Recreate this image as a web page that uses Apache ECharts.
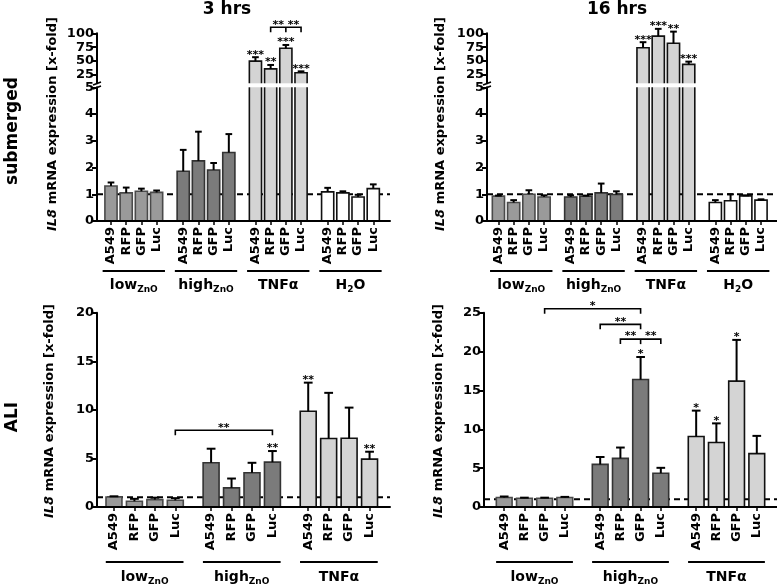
<!DOCTYPE html>
<html><head><meta charset="utf-8">
<script src="https://cdn.jsdelivr.net/npm/echarts@6/dist/echarts.min.js"></script>
<style>html,body{margin:0;padding:0;background:#fff}#c{width:777px;height:584px}</style>
</head><body><div id="c"></div>
<script>
// ---------- data ----------
const cells = ['A549', 'RFP', 'GFP', 'Luc'];
const groupLabelsSub = ['{m|low}{s|ZnO}', '{m|high}{s|ZnO}', '{m|TNFα}', '{m|H}{s|2}{m|O}'];
const groupLabelsAli = ['{m|low}{s|ZnO}', '{m|high}{s|ZnO}', '{m|TNFα}'];
const brokenUpperTicks = [25, 50, 75, 100];

// submerged, 3 hrs (order: low A549,RFP,GFP,Luc | high ... | TNFα ... | H2O ...)
const sub3Mean = [1.31, 1.05, 1.11, 1.07, 1.86, 2.25, 1.91, 2.56, 50, 36, 73, 29, 1.09, 1.05, 0.90, 1.21];
const sub3Sd   = [0.13, 0.20, 0.10, 0.07, 0.80, 1.09, 0.26, 0.69, 7, 7, 6, 2.5, 0.15, 0.06, 0.08, 0.16];
const sub3Sig  = ['', '', '', '', '', '', '', '', '***', '**', '***', '***', '', '', '', ''];
const sub3Brackets = [[9, 11, 111, '**', 10]];

// submerged, 16 hrs
const sub16Mean = [0.93, 0.69, 1.00, 0.90, 0.90, 0.93, 1.05, 0.99, 74, 95, 82, 44, 0.69, 0.76, 0.94, 0.78];
const sub16Sd   = [0.02, 0.09, 0.15, 0.06, 0.06, 0.02, 0.35, 0.12, 10, 13, 21, 5, 0.09, 0.24, 0.02, 0.03];
const sub16Sig  = ['', '', '', '', '', '', '', '', '***', '***', '**', '***', '', '', '', ''];
const sub16Brackets = [];

// ALI, 3 hrs
const ali3Mean = [1.03, 0.59, 0.76, 0.69, 4.55, 1.97, 3.52, 4.62, 9.85, 7.05, 7.08, 4.93];
const ali3Sd   = [0.07, 0.25, 0.20, 0.22, 1.45, 0.96, 1.03, 1.14, 2.95, 4.70, 3.15, 0.76];
const ali3Sig  = ['', '', '', '', '', '', '', '**', '**', '', '', '**'];
const ali3Brackets = [[3, 7, 7.9, '**']];

// ALI, 16 hrs
const ali16Mean = [1.22, 1.13, 1.13, 1.22, 5.48, 6.26, 16.4, 4.35, 9.07, 8.30, 16.2, 6.87];
const ali16Sd   = [0.13, 0.07, 0.07, 0.08, 0.95, 1.39, 2.9, 0.69, 3.33, 2.46, 5.3, 2.28];
const ali16Sig  = ['', '', '', '', '', '', '*', '', '*', '*', '*', ''];
const ali16Brackets = [[2, 6, 25.5, '*'], [4, 6, 23.5, '**'], [5, 7, 21.6, '**', 6]];

// ---------- layout / style ----------
const FF = 'DejaVu Sans';
const fills = ['#9a9a9a', '#7b7b7b', '#d4d4d4', '#ffffff'];
const strokes = ['#4a4a4a', '#333333', '#111111', '#111111'];
const pos = i => Math.floor(i / 4) * 4.75 + (i % 4);

const grids = [], xAxes = [], yAxes = [], series = [];

function xAxisCfg(gi, xmin, xmax, show, n) {
  const positions = Array.from({length: n}, (_, i) => pos(i));
  return {
    gridIndex: gi, type: 'value', min: xmin, max: xmax, show: show, z: 5,
    axisLine: {show: true, onZero: false, lineStyle: {color: '#000', width: 2}},
    axisTick: {show: true, customValues: positions, length: 4, lineStyle: {color: '#000', width: 1.5}},
    axisLabel: {
      show: true, customValues: positions, rotate: 90, margin: 6,
      fontFamily: FF, fontWeight: 'bold', fontSize: 13, color: '#000',
      formatter: v => { const k = positions.findIndex(p => Math.abs(p - v) < 1e-6); return k < 0 ? '' : cells[k % 4]; }
    },
    splitLine: {show: false}
  };
}
function yAxisCfg(gi, min, max, interval, custom) {
  const c = {
    gridIndex: gi, type: 'value', min: min, max: max, z: 5,
    axisLine: {show: true, onZero: false, lineStyle: {color: '#000', width: 2}},
    axisTick: {show: true, length: 5, lineStyle: {color: '#000', width: 2}},
    axisLabel: {fontFamily: FF, fontWeight: 'bold', fontSize: 13, color: '#000', margin: 3},
    splitLine: {show: false}
  };
  if (interval) c.interval = interval;
  if (custom) { c.axisTick.customValues = custom; c.axisLabel.customValues = custom; }
  return c;
}

function barSeries(ai, means, sds, sigs, yMin, yMax, bw, withTop) {
  const data = means.map((m, i) => [pos(i), m, sds[i], i]);
  return {
    type: 'custom', xAxisIndex: ai, yAxisIndex: ai, z: 3, silent: true, animation: false,
    data: data,
    renderItem: function (params, api) {
      const x = api.value(0), m = api.value(1), sd = api.value(2), i = api.value(3);
      if (m <= yMin) return null;
      const g = Math.floor(i / 4);
      const clipped = m > yMax;
      const top = Math.min(m, yMax);
      const a = api.coord([x - bw / 2, yMin]);
      const b = api.coord([x + bw / 2, top]);
      const children = [{
        type: 'rect', shape: {x: a[0], y: b[1], width: b[0] - a[0], height: a[1] - b[1]},
        style: {fill: fills[g]}
      }];
      const st = {stroke: strokes[g], lineWidth: 1.6, fill: null};
      if (clipped) {
        children.push({type: 'line', shape: {x1: a[0], y1: a[1], x2: a[0], y2: b[1]}, style: st});
        children.push({type: 'line', shape: {x1: b[0], y1: a[1], x2: b[0], y2: b[1]}, style: st});
      } else {
        children.push({type: 'polyline', shape: {points: [[a[0], a[1]], [a[0], b[1]], [b[0], b[1]], [b[0], a[1]]]}, style: st});
        const c = api.coord([x, m]);
        const e = api.coord([x, m + sd]);
        const capW = (b[0] - a[0]) * 0.55;
        const es = {stroke: '#000', lineWidth: 2};
        children.push({type: 'line', shape: {x1: c[0], y1: c[1], x2: e[0], y2: e[1]}, style: es});
        children.push({type: 'line', shape: {x1: e[0] - capW / 2, y1: e[1], x2: e[0] + capW / 2, y2: e[1]}, style: es});
        if (sigs[i]) {
          children.push({type: 'text', x: e[0], y: e[1] + 3,
            style: {text: sigs[i], align: 'center', verticalAlign: 'bottom', font: 'bold 11px "' + FF + '"', fill: '#000'}});
        }
      }
      return {type: 'group', children: children};
    }
  };
}

function refLine(ai, xmin, xmax) {
  return {
    type: 'line', xAxisIndex: ai, yAxisIndex: ai, z: 1, silent: true, animation: false,
    symbol: 'none', data: [[xmin, 1], [xmax, 1]],
    lineStyle: {type: [6, 4], width: 2, color: '#000'}
  };
}

function groupSeries(ai, labels, ext, lineOff, textOff) {
  return {
    type: 'custom', xAxisIndex: ai, yAxisIndex: ai, z: 3, silent: true, animation: false,
    data: labels.map((l, gi) => [pos(gi * 4), pos(gi * 4 + 3)]),
    renderItem: function (params, api) {
      const a = api.coord([api.value(0) - ext, 0]);
      const b = api.coord([api.value(1) + ext, 0]);
      const y = a[1] + lineOff;
      return {type: 'group', children: [
        {type: 'line', shape: {x1: a[0], y1: y, x2: b[0], y2: y}, style: {stroke: '#000', lineWidth: 2.2}},
        {type: 'text', x: (a[0] + b[0]) / 2, y: a[1] + textOff, style: {
          text: labels[params.dataIndex], align: 'center', verticalAlign: 'middle', fill: '#000',
          fontFamily: FF, fontWeight: 'bold', fontSize: 14,
          rich: {
            m: {fontFamily: FF, fontWeight: 'bold', fontSize: 14, fill: '#000', lineHeight: 18},
            s: {fontFamily: FF, fontWeight: 'bold', fontSize: 9, fill: '#000', lineHeight: 18, padding: [9, 0, 0, 0]}
          }
        }}
      ]};
    }
  };
}

function bracketSeries(ai, brs) {
  return {
    type: 'custom', xAxisIndex: ai, yAxisIndex: ai, z: 4, silent: true, animation: false,
    data: brs.map(b => [pos(b[0]), pos(b[1]), b[2]]),
    renderItem: function (params, api) {
      const br = brs[params.dataIndex];
      const L = api.coord([api.value(0), api.value(2)]);
      const R = api.coord([api.value(1), api.value(2)]);
      const st = {stroke: '#000', lineWidth: 1.6};
      const ch = [
        {type: 'polyline', shape: {points: [[L[0], L[1] + 5], [L[0], L[1]], [R[0], R[1]], [R[0], R[1] + 5]]}, style: {stroke: '#000', lineWidth: 1.6, fill: null}}
      ];
      const tf = 'bold 11px "' + FF + '"';
      if (br.length > 4) {
        const M = api.coord([pos(br[4]), api.value(2)]);
        ch.push({type: 'line', shape: {x1: M[0], y1: M[1], x2: M[0], y2: M[1] + 5}, style: st});
        ch.push({type: 'text', x: (L[0] + M[0]) / 2, y: L[1] + 3, style: {text: br[3], align: 'center', verticalAlign: 'bottom', font: tf, fill: '#000'}});
        ch.push({type: 'text', x: (M[0] + R[0]) / 2, y: L[1] + 3, style: {text: br[3], align: 'center', verticalAlign: 'bottom', font: tf, fill: '#000'}});
      } else {
        ch.push({type: 'text', x: (L[0] + R[0]) / 2, y: L[1] + 3, style: {text: br[3], align: 'center', verticalAlign: 'bottom', font: tf, fill: '#000'}});
      }
      return {type: 'group', children: ch};
    }
  };
}

// ---------- panels ----------
function brokenPanel(left, width, xmin, xmax, means, sds, sigs, brs, labels) {
  const n = means.length;
  const gu = grids.length;
  grids.push({left: left, width: width, top: 33.3, height: 50});
  grids.push({left: left, width: width, top: 87.3, height: 133.7});
  const iu = xAxes.length;
  xAxes.push(xAxisCfg(gu, xmin, xmax, false, n));
  xAxes.push(xAxisCfg(gu + 1, xmin, xmax, true, n));
  yAxes.push(yAxisCfg(gu, 10, 100, null, brokenUpperTicks));
  yAxes.push(yAxisCfg(gu + 1, 0, 5, 1, null));
  series.push(refLine(iu + 1, xmin, xmax));
  series.push(barSeries(iu, means, sds, sigs, 10, 100, 0.8));
  series.push(barSeries(iu + 1, means, sds, sigs, 0, 5, 0.8));
  series.push(groupSeries(iu + 1, labels, 0.55, 50, 64));
  if (brs.length) series.push(bracketSeries(iu, brs));
}
function plainPanel(left, width, xmin, xmax, ymax, means, sds, sigs, brs, labels) {
  const n = means.length;
  const g = grids.length;
  grids.push({left: left, width: width, top: 312.7, height: 194.3});
  const ia = xAxes.length;
  xAxes.push(xAxisCfg(g, xmin, xmax, true, n));
  yAxes.push(yAxisCfg(g, 0, ymax, 5, null));
  series.push(refLine(ia, xmin, xmax));
  series.push(barSeries(ia, means, sds, sigs, 0, ymax, 0.78));
  series.push(groupSeries(ia, labels, 0.4, 55, 70));
  if (brs.length) series.push(bracketSeries(ia, brs));
}

brokenPanel(97, 293, -0.92, 18.35, sub3Mean, sub3Sd, sub3Sig, sub3Brackets, groupLabelsSub);
brokenPanel(487, 290, -0.75, 18.3, sub16Mean, sub16Sd, sub16Sig, sub16Brackets, groupLabelsSub);
plainPanel(97, 293, -0.83, 13.5, 20, ali3Mean, ali3Sd, ali3Sig, ali3Brackets, groupLabelsAli);
plainPanel(484, 293, -1, 13.5, 25, ali16Mean, ali16Sd, ali16Sig, ali16Brackets, groupLabelsAli);

// ---------- decorations ----------
function txt(x, y, text, size, rot) {
  return {type: 'text', x: x, y: y, rotation: rot || 0, silent: true, style: {
    text: text, align: 'center', verticalAlign: 'middle', fill: '#000',
    fontFamily: FF, fontWeight: 'bold', fontSize: size,
    rich: {i: {fontFamily: FF, fontWeight: 'bold', fontStyle: 'italic', fontSize: size, fill: '#000'},
           n: {fontFamily: FF, fontWeight: 'bold', fontSize: size, fill: '#000'}}
  }};
}
const ytitle = '{i|IL8}{n| mRNA expression [x-fold]}';
function brk(ax) {
  return [
    {type: 'line', silent: true, shape: {x1: ax - 4, y1: 85, x2: ax + 4, y2: 82}, style: {stroke: '#000', lineWidth: 1.5}},
    {type: 'line', silent: true, shape: {x1: ax - 4, y1: 89, x2: ax + 4, y2: 86}, style: {stroke: '#000', lineWidth: 1.5}}
  ];
}
const graphics = [
  txt(227, 10, '3 hrs', 17),
  txt(617, 10, '16 hrs', 17),
  txt(13, 131, 'submerged', 17, Math.PI / 2),
  txt(13, 417, 'ALI', 17, Math.PI / 2),
  txt(53, 124, ytitle, 13, Math.PI / 2),
  txt(441, 124, ytitle, 13, Math.PI / 2),
  txt(50, 411, ytitle, 13, Math.PI / 2),
  txt(439, 411, ytitle, 13, Math.PI / 2)
].concat(brk(97), brk(487));

const chart = echarts.init(document.getElementById('c'));
chart.setOption({
  animation: false,
  backgroundColor: '#fff',
  grid: grids, xAxis: xAxes, yAxis: yAxes, series: series,
  graphic: {elements: graphics}
});
</script></body></html>
